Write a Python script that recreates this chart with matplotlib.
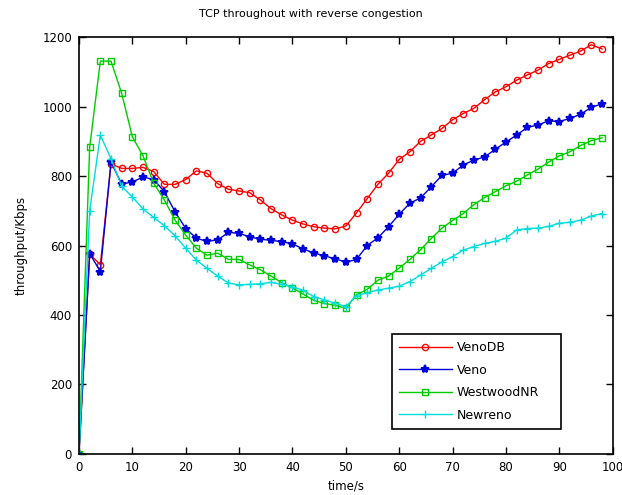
import numpy as np
import matplotlib
matplotlib.use("Agg")
from matplotlib import pyplot as plt

plt.rcParams['font.family'] = ['DejaVu Sans']

# sample times, one point every 2 s
t = np.arange(0, 100, 2)

venodb = [0, 575, 545, 835, 822, 822, 825, 813, 776, 776,
          790, 815, 808, 778, 762, 757, 752, 731, 706, 688,
          673, 662, 654, 650, 648, 656, 694, 735, 776, 808,
          848, 870, 900, 918, 937, 962, 980, 995, 1020, 1042,
          1057, 1076, 1091, 1105, 1124, 1136, 1148, 1160, 1178, 1166]

veno = [0, 577, 525, 840, 777, 783, 797, 790, 755, 697,
        649, 621, 612, 616, 638, 635, 625, 618, 615, 611,
        605, 590, 579, 570, 562, 552, 560, 600, 622, 654,
        690, 722, 737, 769, 802, 808, 832, 846, 855, 877,
        898, 918, 940, 947, 959, 957, 966, 978, 998, 1008]

westwood = [0, 883, 1131, 1131, 1038, 913, 858, 779, 731, 673,
            630, 592, 572, 578, 560, 560, 544, 530, 512, 493,
            478, 460, 442, 433, 428, 419, 458, 474, 500, 512,
            535, 560, 588, 620, 650, 672, 692, 718, 738, 755,
            772, 785, 803, 820, 840, 858, 870, 888, 902, 910]

newreno = [0, 700, 918, 850, 770, 740, 705, 681, 657, 628,
           592, 558, 534, 512, 492, 487, 488, 490, 494, 488,
           481, 471, 453, 443, 434, 424, 456, 464, 472, 477,
           483, 496, 515, 534, 553, 568, 587, 597, 606, 612,
           621, 645, 649, 650, 655, 664, 667, 673, 685, 692]

fig = plt.figure(figsize=(6.22, 4.95), dpi=100)
ax = fig.add_axes([0.127, 0.083, 0.858, 0.842])

ax.plot(t, venodb, '-o', color='#ff0000', lw=1, ms=4.5, mfc='none', mew=1, label='VenoDB')
ax.plot(t, veno, '-*', color='#0000dd', lw=1, ms=6, mew=1.5, label='Veno')
ax.plot(t, westwood, '-s', color='#00cc00', lw=1, ms=5, mfc='none', mew=1, label='WestwoodNR')
ax.plot(t, newreno, '-+', color='#00dddd', lw=1, ms=6, mew=1, label='Newreno')

ax.set_xlim(0, 100)
ax.set_ylim(0, 1200)
ax.set_xticks(np.arange(0, 101, 10))
ax.set_yticks(np.arange(0, 1201, 200))
ax.tick_params(direction='in', top=True, right=True, length=5, width=1,
               labelsize=8.5, pad=5)
for s in ax.spines.values():
    s.set_linewidth(1.2)

fig.text(0.5, 1 - 14 / 495, 'TCP throughout with reverse congestion',
         ha='center', va='center', fontsize=8)
ax.set_xlabel('time/s', fontsize=8.5)
ax.xaxis.set_label_coords(0.5, -0.062)
ax.set_ylabel('throughput/Kbps', fontsize=8.5)
ax.yaxis.set_label_coords(-0.097, 0.5)

# legend box sits in the lower right, stretched to a fixed width
leg = ax.legend(loc='upper left', bbox_to_anchor=(0.586, 0.053, 0.318, 0.235),
                mode='expand', borderaxespad=0, fancybox=False,
                edgecolor='black', framealpha=1, fontsize=9,
                handlelength=4.2, handletextpad=0.4,
                borderpad=0.6, labelspacing=0.75)
leg.get_frame().set_linewidth(1.2)

fig.savefig('out.png', dpi=100)
